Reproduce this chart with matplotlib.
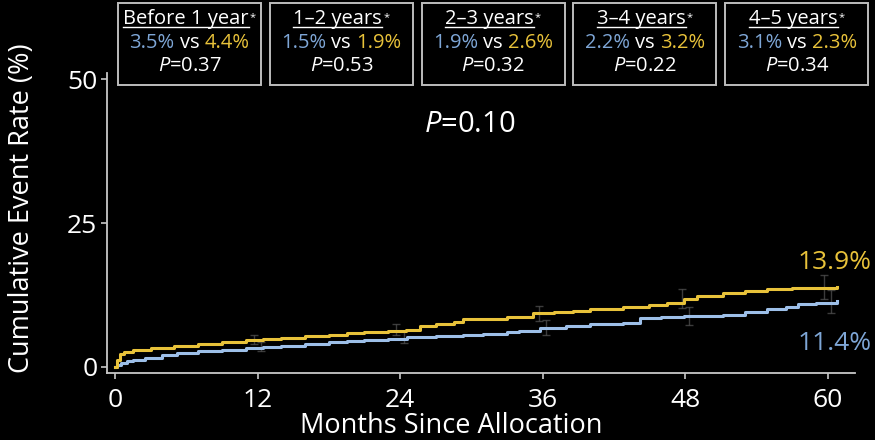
import matplotlib
matplotlib.use('Agg')
import matplotlib.pyplot as plt
from matplotlib.lines import Line2D
from matplotlib.patches import Rectangle

plt.rcParams['font.family'] = ['Open Sans', 'DejaVu Sans']
plt.rcParams['mathtext.fontset'] = 'custom'
plt.rcParams['mathtext.rm'] = 'Open Sans'
plt.rcParams['mathtext.it'] = 'Open Sans:italic'

YELLOW = '#e8c23a'
BLUE = '#9dbfe8'
BLUE_TXT = '#7ea6d6'
GREY = '#c8c8c8'

# Kaplan-Meier style cumulative event curves (months, %)
months_y = [0, 0.2, 0.4, 0.8, 1.5, 3, 5, 7, 9, 11, 12.5, 14, 16, 18, 19.5, 21, 23, 24.5, 25.7, 27,
            28.5, 29.3, 31, 33, 35.2, 37, 38.6, 40, 42.8, 45, 46.5, 47.9, 49, 51.2, 53, 54.9, 57, 59, 60.8]
rate_y = [0, 1.2, 2.3, 2.6, 2.9, 3.3, 3.7, 4.0, 4.3, 4.6, 4.8, 5.0, 5.3, 5.6, 5.9, 6.1, 6.3, 6.5, 7.1, 7.5,
          7.9, 8.3, 8.4, 8.6, 9.3, 9.5, 9.7, 10.1, 10.4, 10.8, 11.2, 11.9, 12.3, 12.9, 13.2, 13.6, 13.7, 13.8, 13.9]

months_b = [0, 0.2, 0.5, 1.0, 1.5, 2.5, 4, 5.2, 7, 9, 11, 12.5, 14, 16, 18, 19.5, 21, 23, 24.6, 27,
            29.3, 31, 33, 34, 35.8, 38, 40, 42.8, 44.2, 46, 47.9, 49.5, 51.2, 53, 54.9, 56.5, 57.5, 59, 60.8]
rate_b = [0, 0.35, 0.7, 1.0, 1.2, 1.6, 2.0, 2.4, 2.7, 3.0, 3.3, 3.5, 3.7, 4.0, 4.3, 4.5, 4.7, 4.9, 5.2, 5.4,
          5.6, 5.8, 6.0, 6.25, 6.8, 7.1, 7.5, 7.6, 8.5, 8.7, 8.85, 8.9, 9.0, 9.5, 10.1, 10.4, 11.0, 11.2, 11.4]

# confidence bars at yearly landmarks
ci_months = [12, 24, 36, 48, 60]
ci_y = [4.8, 6.5, 9.3, 11.9, 13.9]
ci_b = [3.5, 5.2, 6.8, 8.85, 11.4]
ci_half = [0.8, 1.0, 1.3, 1.6, 2.0]

# yearly interval comparisons
periods = ['Before 1 year', '1\u20132 years', '2\u20133 years', '3\u20134 years', '4\u20135 years']
pct_b = ['3.5%', '1.5%', '1.9%', '2.2%', '3.1%']
pct_y = ['4.4%', '1.9%', '2.6%', '3.2%', '2.3%']
p_vals = ['0.37', '0.53', '0.32', '0.22', '0.34']

xticks = [0, 12, 24, 36, 48, 60]
yticks = [0, 25, 50]

fig = plt.figure(figsize=(8.75, 4.4), dpi=100, facecolor='black')
ax = fig.add_axes([107 / 875, 1 - 373 / 440, (855 - 107) / 875, (373 - 73) / 440])
ax.set_facecolor('black')

ax.errorbar([m - 0.3 for m in ci_months], ci_y, yerr=ci_half, fmt='none', ecolor='#555555',
            elinewidth=1, capsize=3, alpha=0.7, zorder=1)
ax.errorbar([m + 0.3 for m in ci_months], ci_b, yerr=ci_half, fmt='none', ecolor='#555555',
            elinewidth=1, capsize=3, alpha=0.7, zorder=1)
ax.plot(months_y, rate_y, drawstyle='steps-post', color=YELLOW, lw=2.2, zorder=3)
ax.plot(months_b, rate_b, drawstyle='steps-post', color=BLUE, lw=2.2, zorder=2)

ax.set_xlim(-0.67, 62.3)
ax.set_ylim(-1.05, 51.1)
ax.set_xticks(xticks)
ax.set_yticks(yticks)
for s in ['top', 'right']:
    ax.spines[s].set_visible(False)
for s in ['left', 'bottom']:
    ax.spines[s].set_color(GREY)
    ax.spines[s].set_linewidth(1.3)
ax.tick_params(colors=GREY, labelcolor='white', labelsize=19, length=4, width=1.2)
ax.tick_params(axis='x', pad=7)
ax.tick_params(axis='y', pad=3)
ax.set_xlabel('Months Since Allocation', color='white', fontsize=19.5, va='center')
ax.xaxis.set_label_coords(0.46, -0.175)
ax.set_ylabel('Cumulative Event Rate (%)', color='white', fontsize=19.5, va='center')
ax.yaxis.set_label_coords(-0.113, 0.55)

ax.text(63.7, rate_y[-1] + 2.0, f'{rate_y[-1]:.1f}%', color=YELLOW, fontsize=19, ha='right', va='bottom')
ax.text(63.7, rate_b[-1] - 5.2, f'{rate_b[-1]:.1f}%', color=BLUE_TXT, fontsize=19, ha='right', va='top')
ax.text(0.485, 0.83, r'$\it{P}$=0.10', transform=ax.transAxes, color='white', fontsize=21,
        ha='center', va='center')

# boxes along the top with per-year rates
box_w, box_h = 143 / 875, 82 / 440
titles = []
for i, (per, b, yv, p) in enumerate(zip(periods, pct_b, pct_y, p_vals)):
    x0 = (118 + i * 151.8) / 875
    y0 = 1 - 85 / 440
    fig.patches.append(Rectangle((x0, y0), box_w, box_h, transform=fig.transFigure,
                                 facecolor='black', edgecolor='#bdbdbd', lw=1.4))
    cx = x0 + box_w / 2
    t = fig.text(cx - 0.004, 1 - 19 / 440, per, color='white', fontsize=14.5, ha='center', va='center')
    titles.append(t)
    fig.text(cx, 1 - 43 / 440, 'vs', color='white', fontsize=14.5, ha='center', va='center')
    fig.text(cx - 0.017, 1 - 43 / 440, b, color=BLUE_TXT, fontsize=14.5, ha='right', va='center')
    fig.text(cx + 0.017, 1 - 43 / 440, yv, color=YELLOW, fontsize=14.5, ha='left', va='center')
    fig.text(cx, 1 - 66 / 440, r'$\it{P}$=' + p, color='white', fontsize=14.5, ha='center', va='center')

# underline each title and add the asterisk
fig.canvas.draw()
r = fig.canvas.get_renderer()
inv = fig.transFigure.inverted()
for t in titles:
    bb = t.get_window_extent(r)
    (x1, y1), (x2, y2) = inv.transform([(bb.x0, bb.y0), (bb.x1, bb.y1)])
    fig.add_artist(Line2D([x1, x2], [y1 + 0.004, y1 + 0.004], color='white', lw=1.0,
                          transform=fig.transFigure))
    fig.text(x2 + 0.001, y2 - 0.006, '*', color='white', fontsize=8, ha='left', va='top')

fig.savefig('out.png', dpi=100, facecolor='black')
